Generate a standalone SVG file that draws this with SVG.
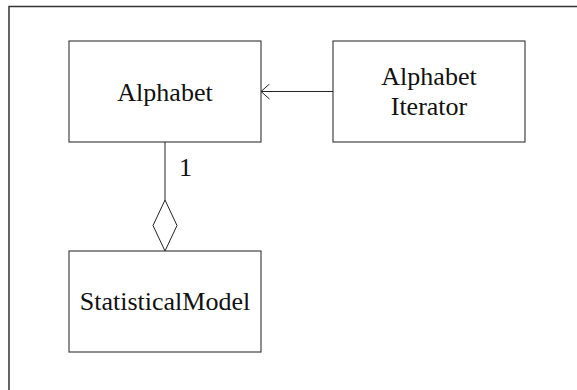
<svg xmlns="http://www.w3.org/2000/svg" width="577" height="390" viewBox="0 0 577 390">
<style>
.box{fill:#fff;stroke:#444;stroke-width:1.2}
.lbl{font-family:"Liberation Serif","Times New Roman",serif;font-size:26px;fill:#111;text-anchor:middle}
.ln{fill:none;stroke:#222;stroke-width:1}
</style>
<defs>
<marker id="open" viewBox="0 0 10 16" refX="9.5" refY="8" markerWidth="10" markerHeight="16" markerUnits="userSpaceOnUse" orient="auto">
<path d="M1 0.5 L9.5 8 L1 15.5" fill="none" stroke="#222" stroke-width="1"/>
</marker>
</defs>
<rect width="577" height="390" fill="#fff"/>
<path d="M9 400 V6.5 H590" fill="none" stroke="#333" stroke-width="1.5"/>
<g id="alphabet">
<rect class="box" x="69" y="41" width="192" height="101"/>
<text class="lbl" x="165" y="100.5">Alphabet</text>
</g>
<g id="alphabet-iterator">
<rect class="box" x="333" y="41" width="192" height="101"/>
<text class="lbl" x="429" y="85">Alphabet</text>
<text class="lbl" x="429" y="115">Iterator</text>
</g>
<g id="statistical-model">
<rect class="box" x="69" y="251" width="192" height="101"/>
<text class="lbl" x="165" y="310">StatisticalModel</text>
</g>
<g id="connectors">
<line class="ln" x1="333" y1="91.5" x2="261" y2="91.5" marker-end="url(#open)"/>
<line class="ln" x1="165" y1="142" x2="165" y2="200"/>
<polygon points="165,200 177,225.5 165,251 153,225.5" fill="#fff" stroke="#222" stroke-width="1"/>
<text x="179" y="176" font-family="Liberation Serif,serif" font-size="26px" fill="#111">1</text>
</g>
</svg>
